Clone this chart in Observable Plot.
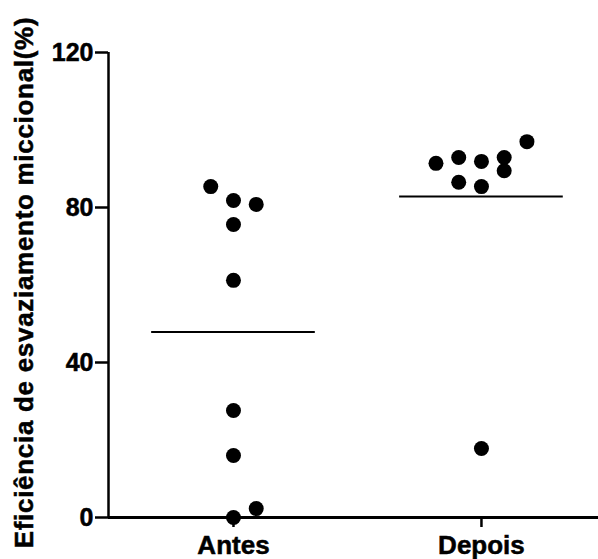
<!DOCTYPE html>
<html>
<head>
<meta charset="utf-8">
<script src="https://cdn.jsdelivr.net/npm/d3@7"></script>
<script src="https://cdn.jsdelivr.net/npm/@observablehq/plot@0.6"></script>
<style>
  html, body { margin: 0; padding: 0; background: #fff; }
  #chart svg { display: block; }
  #chart svg text { stroke: #000; stroke-width: 0.5px; }
  .ylab text { letter-spacing: 0.7px; }
</style>
</head>
<body>
<div id="chart"></div>
<script>
const groups = ["Antes", "Depois"];
const antes = [85.4, 81.8, 80.8, 75.6, 61.2, 27.6, 16.0, 0, 2.3];
const antesSlot = [-1, 0, 1, 0, 0, 0, 0, 0, 1];
const depois = [91.4, 92.9, 91.9, 92.9, 97.0, 86.5, 85.4, 89.5, 17.8];
const depoisSlot = [-2, -1, 0, 1, 2, -1, 0, 1, 0];
const yTicks = [0, 40, 80, 120];
const yLabel = "Eficiência de esvaziamento miccional(%)";

const slotStep = 0.0917;
const halfLine = 0.33;
const xDomain = [0.496, 2.472];

const points = [
  ...antes.map((v, i) => ({g: 1, v, x: 1 + antesSlot[i] * slotStep})),
  ...depois.map((v, i) => ({g: 2, v, x: 2 + depoisSlot[i] * slotStep}))
];
const means = [
  {g: 1, m: d3.mean(antes)},
  {g: 2, m: d3.mean(depois)}
];

const font = "'Liberation Sans', Arial, Helvetica, sans-serif";

const chart = Plot.plot({
  width: 598,
  height: 559,
  marginLeft: 108,
  marginRight: 0,
  marginTop: 52,
  marginBottom: 42,
  style: {fontFamily: font, color: "#000", background: "#fff"},
  x: {domain: xDomain, axis: null},
  y: {domain: [0, 120], axis: null},
  marks: [
    Plot.ruleY([0], {stroke: "#000", strokeWidth: 3}),
    Plot.ruleX([xDomain[0]], {y1: 0, y2: 120, stroke: "#000", strokeWidth: 2.5}),
    Plot.axisY({ticks: yTicks, tickSize: 13, tickPadding: 2, strokeWidth: 2.5, fontSize: 25, fontWeight: "bold", label: null}),
    Plot.axisX({ticks: [1, 2], tickFormat: (d) => groups[d - 1], tickSize: 10, tickPadding: 8, strokeWidth: 2.5, fontSize: 26, fontWeight: "bold", label: null}),
    Plot.ruleY(means, {y: "m", x1: (d) => d.g - halfLine, x2: (d) => d.g + halfLine, stroke: "#000", strokeWidth: 2}),
    Plot.dot(points, {x: "x", y: "v", r: 7.5, fill: "#000", stroke: "none"}),
    Plot.text([yLabel], {text: (d) => d, frameAnchor: "left", rotate: -90, dx: -84, dy: -2.5, fontSize: 26, fontWeight: "bold", textAnchor: "middle", lineAnchor: "middle", className: "ylab"})
  ]
});
document.getElementById("chart").appendChild(chart);
</script>
</body>
</html>
